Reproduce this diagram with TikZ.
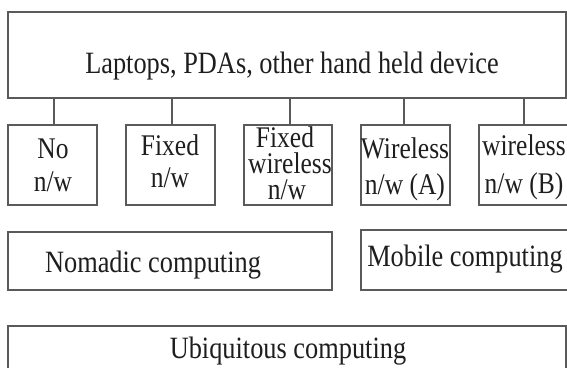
\documentclass[tikz,border=0pt]{standalone}
\usepackage{fontspec}
\setmainfont[FakeStretch=0.85]{Liberation Serif}
\definecolor{linec}{HTML}{5A5A5A}
\definecolor{textc}{HTML}{1E1E1E}
\tikzset{
  box/.style={draw=linec, line width=1.1pt, inner sep=0pt, outer sep=0pt, anchor=north west},
  txt/.style={inner sep=0pt, outer sep=0pt, anchor=base, text=textc, font=\fontsize{31}{31}\selectfont},
  stxt/.style={txt, font=\fontsize{30}{30}\selectfont},
  stub/.style={draw=linec, line width=1.1pt}
}
\begin{document}
\begin{tikzpicture}[x=1pt,y=-1pt]
\useasboundingbox (0,0) rectangle (567,367);
\clip (0,0) rectangle (567,367);
% top box
\node[box, minimum width=558pt, minimum height=86pt] (top) at (8,12) {};
\node[txt] (toptxt) at (292,73) {Laptops, PDAs, other hand held device};
% second row
\node[box, minimum width=89pt, minimum height=80pt] (nonw) at (8,125) {};
\node[box, minimum width=89pt, minimum height=80pt] (fixed) at (126,125) {};
\node[box, minimum width=88pt, minimum height=80pt] (fixwl) at (244,125) {};
\node[box, minimum width=89pt, minimum height=80pt] (wla) at (361,125) {};
\node[box, minimum width=92pt, minimum height=80pt] (wlb) at (479,125) {};
\node[stxt] (t1a) at (53,158) {No};
\node[stxt] (t1b) at (53,191) {n/w};
\node[stxt] (t2a) at (170,155) {Fixed};
\node[stxt] (t2b) at (170,187) {n/w};
\node[stxt] (t3a) at (285,147) {Fixed};
\node[stxt] (t3b) at (290,173) {wireless};
\node[stxt] (t3c) at (287,199) {n/w};
\node[stxt] (t4a) at (405,158) {Wireless};
\node[stxt] (t4b) at (405,194) {n/w (A)};
\node[stxt] (t5a) at (524,155) {wireless};
\node[stxt] (t5b) at (524,193) {n/w (B)};
% stubs
\draw[stub] (nonw.north -| 54,0) -- (top.south -| 54,0);
\draw[stub] (fixed.north -| 172,0) -- (top.south -| 172,0);
\draw[stub] (fixwl.north -| 290,0) -- (top.south -| 290,0);
\draw[stub] (wla.north -| 404,0) -- (top.south -| 404,0);
\draw[stub] (wlb.north -| 524,0) -- (top.south -| 524,0);
% third row
\node[box, minimum width=324pt, minimum height=58pt] (nomad) at (8,232) {};
\node[box, minimum width=210pt, minimum height=60pt] (mobile) at (361,230) {};
\node[txt] (nomadtxt) at (153,272) {Nomadic computing};
\node[txt] (mobiletxt) at (465,266) {Mobile computing};
% bottom
\node[box, minimum width=558pt, minimum height=60pt] (ubiq) at (8,326) {};
\node[txt] (ubiqtxt) at (288,358) {Ubiquitous computing};
\end{tikzpicture}
\end{document}
